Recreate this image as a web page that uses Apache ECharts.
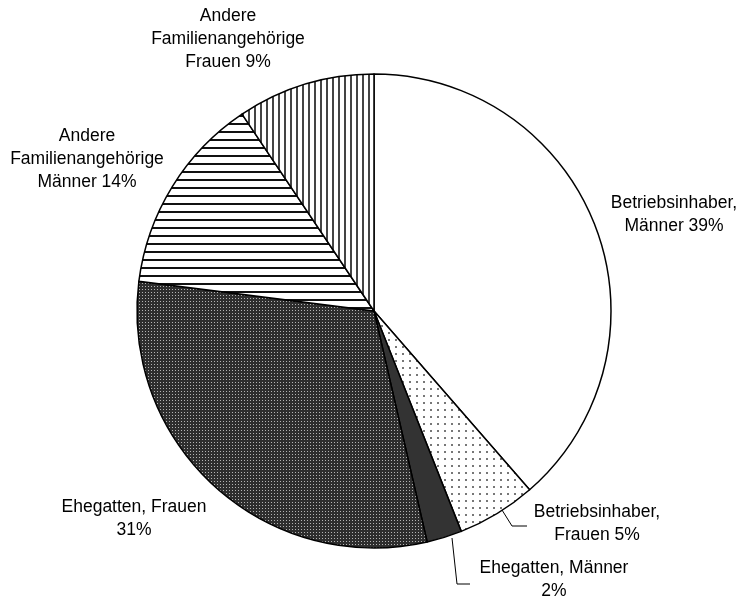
<!DOCTYPE html>
<html>
<head>
    <meta charset="utf-8">
    <script src="https://cdn.jsdelivr.net/npm/echarts@6/dist/echarts.min.js"></script>
    <style>
        html, body { margin: 0; padding: 0; background: #fff; }
    </style>
</head>
<body>
<div id="main" style="width: 739px;height:604px;"></div>

<script>
  // Kategorien (Zeilenumbruch wie in der Vorlage)
  var categories = [
    'Betriebsinhaber,\nMänner',
    'Betriebsinhaber,\nFrauen',
    'Ehegatten, Männer\n',
    'Ehegatten, Frauen\n',
    'Andere\nFamilienangehörige\nMänner',
    'Andere\nFamilienangehörige\nFrauen'
  ];
  // Anteile
  var values = [38.6, 5.4, 2.4, 30.6, 13.6, 9.4];
  // Beschriftete Prozentwerte
  var percentLabels = ['39%', '5%', '2%', '31%', '14%', '9%'];

  // Muster fuer die Segmente
  function makePattern(w, h, draw) {
    var c = document.createElement('canvas');
    c.width = w;
    c.height = h;
    var ctx = c.getContext('2d');
    draw(ctx, w, h);
    return { image: c, repeat: 'repeat' };
  }

  var patWhite = '#ffffff';
  var patDots = makePattern(7, 7, function (ctx, w, h) {
    ctx.fillStyle = '#fff';
    ctx.fillRect(0, 0, w, h);
    ctx.fillStyle = '#777';
    ctx.fillRect(3, 3, 2, 2);
  });
  var patDark = '#333333';
  var patDense = makePattern(3, 3, function (ctx, w, h) {
    ctx.fillStyle = '#2e2e2e';
    ctx.fillRect(0, 0, w, h);
    ctx.fillStyle = '#b4b4b4';
    ctx.fillRect(1, 1, 1, 1);
  });
  var patHoriz = makePattern(8, 8, function (ctx, w, h) {
    ctx.fillStyle = '#fff';
    ctx.fillRect(0, 0, w, h);
    ctx.fillStyle = '#111';
    ctx.fillRect(0, 3, w, 2);
  });
  var patVert = makePattern(6, 6, function (ctx, w, h) {
    ctx.fillStyle = '#fff';
    ctx.fillRect(0, 0, w, h);
    ctx.fillStyle = '#444';
    ctx.fillRect(2, 0, 2, h);
  });
  var fills = [patWhite, patDots, patDark, patDense, patHoriz, patVert];

  // Lage der Beschriftungen
  var labelPos = [
    { x: 674, y: 215 },
    { x: 597, y: 524, line: [[502, 510], [512, 526], [527, 526]] },
    { x: 554, y: 580, line: [[452, 538], [457, 584], [470, 584]] },
    { x: 134, y: 519 },
    { x: 87, y: 159 },
    { x: 228, y: 39 }
  ];

  var seriesData = [];
  for (var i = 0; i < values.length; i++) {
    seriesData.push({
      name: categories[i],
      value: values[i],
      itemStyle: { color: fills[i] },
      labelLine: { show: !!labelPos[i].line }
    });
  }

  var myChart = echarts.init(document.getElementById('main'));
  var option = {
    animation: false,
    series: [{
      type: 'pie',
      center: [374, 311],
      radius: 237,
      startAngle: 90,
      clockwise: true,
      data: seriesData,
      itemStyle: {
        borderColor: '#000',
        borderWidth: 1.5
      },
      label: {
        show: true,
        position: 'outside',
        color: '#000',
        fontFamily: 'Liberation Sans, Arial, sans-serif',
        fontSize: 17.5,
        lineHeight: 23,
        align: 'center',
        overflow: 'none',
        width: 200,
        formatter: function (p) {
          var n = categories[p.dataIndex];
          var sep = n.charAt(n.length - 1) === '\n' ? '' : ' ';
          return n + sep + percentLabels[p.dataIndex];
        }
      },
      labelLine: {
        lineStyle: { color: '#000', width: 1 },
        length: 10,
        length2: 10
      },
      labelLayout: function (params) {
        var pos = labelPos[params.dataIndex];
        var res = {
          x: pos.x,
          y: pos.y,
          align: 'center',
          verticalAlign: 'middle'
        };
        if (pos.line) {
          res.labelLinePoints = pos.line;
        }
        return res;
      },
      emphasis: { disabled: true }
    }]
  };
  myChart.setOption(option);
</script>
</body>
</html>
